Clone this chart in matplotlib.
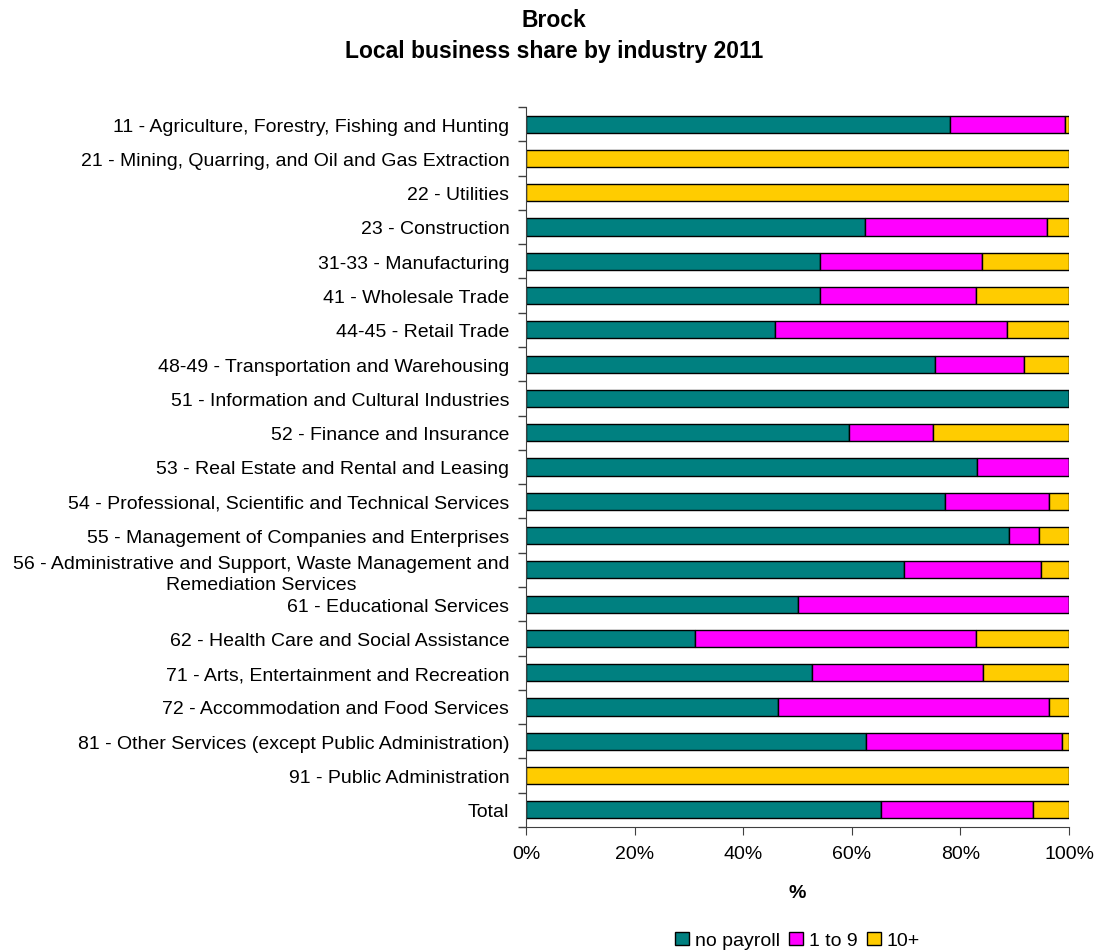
import matplotlib
matplotlib.use("Agg")
import matplotlib.pyplot as plt
import numpy as np
from matplotlib.ticker import FuncFormatter, FixedLocator

plt.rcParams['font.family'] = ['Liberation Sans', 'DejaVu Sans']

categories = [
    "11 - Agriculture, Forestry, Fishing and Hunting",
    "21 - Mining, Quarring, and Oil and Gas Extraction",
    "22 - Utilities",
    "23 - Construction",
    "31-33 - Manufacturing",
    "41 - Wholesale Trade",
    "44-45 - Retail Trade",
    "48-49 - Transportation and Warehousing",
    "51 - Information and Cultural Industries",
    "52 - Finance and Insurance",
    "53 - Real Estate and Rental and Leasing",
    "54 - Professional, Scientific and Technical Services",
    "55 - Management of Companies and Enterprises",
    "56 - Administrative and Support, Waste Management and\nRemediation Services",
    "61 - Educational Services",
    "62 - Health Care and Social Assistance",
    "71 - Arts, Entertainment and Recreation",
    "72 - Accommodation and Food Services",
    "81 - Other Services (except Public Administration)",
    "91 - Public Administration",
    "Total",
]

no_payroll = [78.1, 0, 0, 62.5, 54.2, 54.2, 45.8, 75.3, 100, 59.4, 83.1, 77.2, 88.9, 69.7, 50.0, 31.1, 52.6, 46.4, 62.7, 0, 65.3]
one_to_9   = [21.1, 0, 0, 33.4, 29.7, 28.6, 42.8, 16.4, 0, 15.6, 16.9, 19.2, 5.6, 25.1, 50.0, 51.7, 31.6, 50.0, 36.0, 0, 28.1]
ten_plus   = [0.8, 100, 100, 4.1, 16.1, 17.2, 11.4, 8.3, 0, 25.0, 0, 3.6, 5.5, 5.2, 0, 17.2, 15.8, 3.6, 1.3, 100, 6.6]

series_names = ["no payroll", "1 to 9", "10+"]
colors = ["#008080", "#FF00FF", "#FFCC00"]

fig = plt.figure(figsize=(10.97, 9.53), dpi=100)
ax = fig.add_axes([0.4795, 0.1312, 0.495, 0.7555])

y = np.arange(len(categories))
left = np.zeros(len(categories))
for vals, name, c in zip([no_payroll, one_to_9, ten_plus], series_names, colors):
    v = np.array(vals, dtype=float)
    ax.barh(y, v, left=left, height=0.5, color=c, edgecolor='black', linewidth=1, label=name)
    left += v

ax.set_ylim(len(categories) - 0.5, -0.5)
ax.set_xlim(0, 100)
ax.set_yticks(y)
ax.set_yticklabels(categories, fontsize=14, multialignment='center', linespacing=1.35)
ax.tick_params(axis='y', length=0, pad=12)
ax.yaxis.set_minor_locator(FixedLocator(np.arange(-0.5, len(categories), 1)))
ax.tick_params(axis='y', which='minor', length=6, color='#404040', width=1)

ax.set_xticks(np.arange(0, 101, 20))
ax.xaxis.set_major_formatter(FuncFormatter(lambda v, p: f"{int(v)}%"))
ax.tick_params(axis='x', labelsize=14, length=6, color='#404040', pad=7)

for s in ['top', 'right']:
    ax.spines[s].set_visible(False)
for s in ['left', 'bottom']:
    ax.spines[s].set_color('#404040')

ax.set_xlabel('%', fontsize=14, fontweight='bold', labelpad=16)

fig.suptitle("Brock\nLocal business share by industry 2011", fontsize=16.5, fontweight='bold',
             y=0.991, x=0.505, linespacing=1.45)

handles, labels = ax.get_legend_handles_labels()
fig.legend(handles, labels, loc='center', bbox_to_anchor=(0.727, 0.012), ncol=3, frameon=False,
           fontsize=14, handlelength=0.7, handleheight=0.7, handletextpad=0.3, columnspacing=0.5)

fig.savefig("out.png", dpi=100)
